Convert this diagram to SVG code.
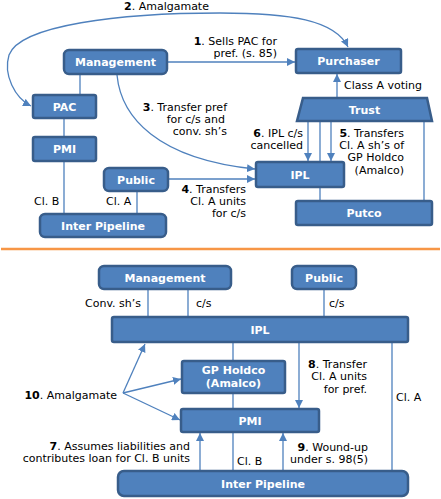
<svg xmlns="http://www.w3.org/2000/svg" width="441" height="499" viewBox="0 0 441 499">
<style>
.box{fill:#4F81BD;stroke:#385D8A;stroke-width:2.5}
.nl{font-family:"DejaVu Sans",sans-serif;font-size:11px;font-weight:bold;fill:#fff;text-anchor:middle}
.lbl{font-family:"DejaVu Sans",sans-serif;font-size:11px;fill:#000}
.e{text-anchor:end}
.c{stroke:#4F81BD;stroke-width:1.3;fill:none}
.a{marker-end:url(#ah)}
b,.b{font-weight:bold}
</style>
<defs>
<marker id="ah" viewBox="0 0 8 8" refX="8" refY="4" markerWidth="8" markerHeight="8" markerUnits="userSpaceOnUse" orient="auto-start-reverse">
<path d="M0,0 L8,4 L0,8 z" fill="#4F81BD"/>
</marker>
</defs>
<rect width="441" height="499" fill="#fff"/>

<g id="connectors">
<path class="c a" d="M168,62 H295"/>
<path class="c" d="M348,47 C335,20 290,13 220,13 C120,13 20,25 9,55 C3,75 15,98 31,106" marker-start="url(#ah)" marker-end="url(#ah)"/>
<path class="c a" d="M117,75 C121,117 157,159 255,169"/>
<path class="c a" d="M169,179 H255"/>
<path class="c a" d="M331,122 V161"/>
<path class="c a" d="M308,122 V161"/>
<path class="c" d="M320,122 V161 M320,188 V200 M424,122 V200"/>
<path class="c a" d="M337,97 V74"/>
<path class="c" d="M80,75 V94 M64,119 V136 M64,162 V213 M137,192 V213"/>
<path class="c" d="M148,290 V316 M188,290 V316 M324,290 V316 M233,343 V360 M233,394 V408 M392,343 V470 M233,433 V470"/>
<path class="c a" d="M299,343 V408"/>
<path class="c a" d="M283,470 V433"/>
<path class="c a" d="M200,470 V433"/>
<path class="c a" d="M123,393 L145,344"/>
<path class="c a" d="M123,393 L181,379"/>
<path class="c a" d="M123,393 L180,420"/>
<line x1="1" y1="249" x2="440" y2="249" stroke="#F79646" stroke-width="2.5"/>
</g>

<g id="labels">
<text class="lbl" x="124" y="10"><tspan class="b">2</tspan>. Amalgamate</text>
<text class="lbl e" x="277" y="45"><tspan class="b">1</tspan>. Sells PAC for</text>
<text class="lbl e" x="277" y="57">pref. (s. 85)</text>
<text class="lbl" x="344" y="89">Class A voting</text>
<text class="lbl e" x="227" y="111"><tspan class="b">3</tspan>. Transfer pref</text>
<text class="lbl e" x="225" y="123">for c/s and</text>
<text class="lbl e" x="227" y="135">conv. sh’s</text>
<text class="lbl e" x="303" y="137"><tspan class="b">6</tspan>. IPL c/s</text>
<text class="lbl e" x="303" y="149">cancelled</text>
<text class="lbl e" x="404" y="137"><tspan class="b">5</tspan>. Transfers</text>
<text class="lbl e" x="404" y="149">Cl. A sh’s of</text>
<text class="lbl e" x="404" y="161">GP Holdco</text>
<text class="lbl e" x="404" y="174">(Amalco)</text>
<text class="lbl e" x="246" y="193"><tspan class="b">4</tspan>. Transfers</text>
<text class="lbl e" x="246" y="205">Cl. A units</text>
<text class="lbl e" x="246" y="217">for c/s</text>
<text class="lbl" x="34" y="205">Cl. B</text>
<text class="lbl" x="106" y="205">Cl. A</text>

<text class="lbl e" x="141" y="307">Conv. sh’s</text>
<text class="lbl" x="196" y="307">c/s</text>
<text class="lbl" x="329" y="307">c/s</text>
<text class="lbl e" x="367" y="368"><tspan class="b">8</tspan>. Transfer</text>
<text class="lbl e" x="367" y="380">Cl. A units</text>
<text class="lbl e" x="367" y="393">for pref.</text>
<text class="lbl" x="396" y="401">Cl. A</text>
<text class="lbl e" x="117" y="399"><tspan class="b">10</tspan>. Amalgamate</text>
<text class="lbl e" x="190" y="450"><tspan class="b">7</tspan>. Assumes liabilities and</text>
<text class="lbl e" x="190" y="462">contributes loan for Cl. B units</text>
<text class="lbl e" x="368" y="451"><tspan class="b">9</tspan>. Wound-up</text>
<text class="lbl e" x="368" y="463">under s. 98(5)</text>
<text class="lbl" x="237" y="465">Cl. B</text>
</g>

<g id="top-management"><rect class="box" x="64" y="50" width="103" height="24" rx="5"/><text class="nl" x="115.5" y="66">Management</text></g>
<g id="top-purchaser"><rect class="box" x="296" y="49" width="105" height="24" rx="2"/><text class="nl" x="348.5" y="65">Purchaser</text></g>
<g id="top-pac"><rect class="box" x="33" y="95" width="63" height="23" rx="2"/><text class="nl" x="64.5" y="110.5">PAC</text></g>
<g id="top-trust"><polygon class="box" points="303,98 427,98 432,121 297,121"/><text class="nl" x="364.5" y="113.5">Trust</text></g>
<g id="top-pmi"><rect class="box" x="33" y="137" width="63" height="24" rx="2"/><text class="nl" x="64.5" y="153">PMI</text></g>
<g id="top-public"><rect class="box" x="104" y="168" width="64" height="23" rx="5"/><text class="nl" x="136" y="183.5">Public</text></g>
<g id="top-ipl"><rect class="box" x="256" y="162" width="88" height="25" rx="2"/><text class="nl" x="300" y="178.5">IPL</text></g>
<g id="top-putco"><rect class="box" x="296" y="201" width="136" height="24" rx="2"/><text class="nl" x="364" y="217">Putco</text></g>
<g id="top-interpipeline"><rect class="box" x="40" y="214" width="126" height="23" rx="5"/><text class="nl" x="103" y="229.5">Inter Pipeline</text></g>

<g id="bot-management"><rect class="box" x="99" y="266" width="132" height="23" rx="5"/><text class="nl" x="165" y="281.5">Management</text></g>
<g id="bot-public"><rect class="box" x="292" y="266" width="64" height="23" rx="5"/><text class="nl" x="324" y="281.5">Public</text></g>
<g id="bot-ipl"><rect class="box" x="112" y="317" width="296" height="25" rx="2"/><text class="nl" x="260" y="333.5">IPL</text></g>
<g id="bot-gpholdco"><rect class="box" x="182" y="361" width="103" height="32" rx="2"/><text class="nl" x="233.5" y="374">GP Holdco</text><text class="nl" x="233.5" y="387">(Amalco)</text></g>
<g id="bot-pmi"><rect class="box" x="181" y="409" width="138" height="23" rx="2"/><text class="nl" x="250" y="424.5">PMI</text></g>
<g id="bot-interpipeline"><rect class="box" x="118" y="471" width="290" height="25" rx="6"/><text class="nl" x="263" y="487.5">Inter Pipeline</text></g>
</svg>
